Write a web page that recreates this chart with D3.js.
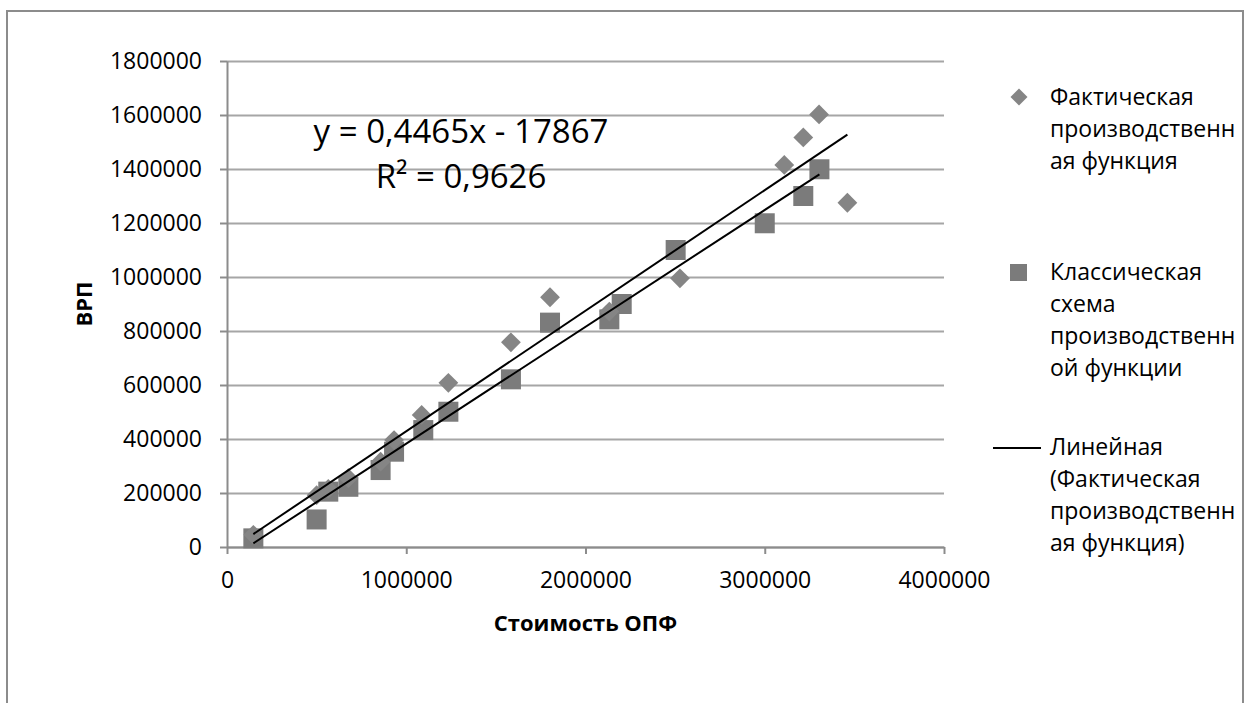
<!DOCTYPE html>
<html>
<head>
<meta charset="utf-8">
<script src="https://cdn.jsdelivr.net/npm/d3@7"></script>
<style>
  body { margin: 0; background: #fff; }
  text { font-family: "Open Sans", "Noto Sans", sans-serif; fill: #000; }
  .axis path, .axis line { stroke: #8c8c8c; stroke-width: 2; }
  .grid line { stroke: #a6a6a6; stroke-width: 2; }
  .grid path { display: none; }
</style>
</head>
<body>
<div id="chart"></div>
<script>
// Фактическая производственная функция (diamonds)
const factX = [147000, 500000, 565000, 677000, 857000, 932000, 1086000, 1235000, 1584000,
  1802000, 2133000, 2527000, 3109000, 3215000, 3303000, 3461000];
const factY = [45000, 192000, 215000, 255000, 316000, 396000, 489000, 608000, 758000,
  925000, 872000, 995000, 1415000, 1517000, 1602000, 1275000];

// Классическая схема производственной функции (squares)
const classX = [147000, 500000, 565000, 677000, 857000, 932000, 1095000, 1235000, 1584000,
  1802000, 2133000, 2202000, 2503000, 3000000, 3215000, 3305000];
const classY = [32000, 102000, 205000, 223000, 285000, 353000, 433000, 501000, 621000,
  831000, 843000, 900000, 1100000, 1199000, 1300000, 1399000];

// linear trends: [slope, intercept, xStart, xEnd]
const trendFact = [0.4465, -17867, 147000, 3461000];
const trendClass = [0.4328, -50100, 147000, 3305000];

const xTicks = [0, 1000000, 2000000, 3000000, 4000000];
const yTicks = [0, 200000, 400000, 600000, 800000, 1000000, 1200000, 1400000, 1600000, 1800000];

const legendLabels = [
  ["Фактическая", "производственн", "ая функция"],
  ["Классическая", "схема", "производственн", "ой функции"],
  ["Линейная", "(Фактическая", "производственн", "ая функция)"]
];

const W = 1247, H = 703;
const margin = {top: 61, left: 227};
const width = 944 - 227, height = 547 - 61;

const svg = d3.select("#chart").append("svg")
  .attr("width", W)
  .attr("height", H);

// outer frame
svg.append("rect")
  .attr("x", 7).attr("y", 11)
  .attr("width", 1236).attr("height", 720)
  .attr("fill", "none")
  .attr("stroke", "#8c8c8c")
  .attr("stroke-width", 2);

const g = svg.append("g")
  .attr("transform", "translate(" + margin.left + "," + margin.top + ")");

const x = d3.scaleLinear().domain([0, 4000000]).range([0, width]);
const y = d3.scaleLinear().domain([0, 1800000]).range([height, 0]);

// gridlines
g.append("g")
  .attr("class", "grid")
  .call(d3.axisLeft(y).tickValues(yTicks).tickSize(-width).tickFormat(""));

// y axis
g.append("g")
  .attr("class", "axis")
  .call(d3.axisLeft(y).tickValues(yTicks).tickSizeInner(7).tickSizeOuter(0).tickPadding(18)
    .tickFormat(d3.format("d")))
  .selectAll("text")
  .style("font-size", "23px");

// x axis
g.append("g")
  .attr("class", "axis")
  .attr("transform", "translate(0," + height + ")")
  .call(d3.axisBottom(x).tickValues(xTicks).tickSizeInner(7).tickSizeOuter(0).tickPadding(18)
    .tickFormat(d3.format("d")))
  .selectAll("text")
  .style("font-size", "23px");

// axis titles
g.append("text")
  .attr("x", width / 2)
  .attr("y", 631 - margin.top)
  .style("text-anchor", "middle")
  .style("font-size", "22px")
  .style("font-weight", "bold")
  .text("Стоимость ОПФ");

g.append("text")
  .attr("transform", "rotate(-90)")
  .attr("x", -height / 2)
  .attr("y", 92 - margin.left)
  .style("text-anchor", "middle")
  .style("font-size", "22px")
  .style("font-weight", "bold")
  .text("ВРП");

// squares
const sq = 20;
g.selectAll(".sq")
  .data(classX.map((d, i) => [d, classY[i]]))
  .enter().append("rect")
  .attr("class", "sq")
  .attr("x", d => x(d[0]) - sq / 2)
  .attr("y", d => y(d[1]) - sq / 2)
  .attr("width", sq)
  .attr("height", sq)
  .style("fill", "#7b7b7b");

// diamonds
const diamond = d3.symbol().type(d3.symbolSquare).size(14 * 14);
g.selectAll(".dm")
  .data(factX.map((d, i) => [d, factY[i]]))
  .enter().append("path")
  .attr("class", "dm")
  .attr("d", diamond)
  .attr("transform", d => "translate(" + x(d[0]) + "," + y(d[1]) + ") rotate(45)")
  .style("fill", "#858585");

// trend lines
const line = d3.line().x(d => x(d[0])).y(d => y(d[1]));
[trendFact, trendClass].forEach(t => {
  g.append("path")
    .datum([[t[2], t[0] * t[2] + t[1]], [t[3], t[0] * t[3] + t[1]]])
    .attr("d", line)
    .attr("fill", "none")
    .attr("stroke", "#000")
    .attr("stroke-width", 2);
});

// equation
svg.append("text")
  .attr("x", 461).attr("y", 143)
  .style("text-anchor", "middle")
  .style("font-size", "33px")
  .text("y = 0,4465x - 17867");
svg.append("text")
  .attr("x", 461).attr("y", 188)
  .style("text-anchor", "middle")
  .style("font-size", "33px")
  .text("R² = 0,9626");

// legend
const lg = svg.append("g");
const groupTop = [105, 280, 455];
const lineH = 32;
legendLabels.forEach((lines, i) => {
  lg.append("text")
    .attr("x", 1050)
    .attr("y", groupTop[i])
    .style("font-size", "23px")
    .selectAll("tspan")
    .data(lines)
    .enter().append("tspan")
    .attr("x", 1050)
    .attr("dy", (d, j) => j ? lineH : 0)
    .text(d => d);
});
lg.append("path")
  .attr("d", d3.symbol().type(d3.symbolSquare).size(12 * 12))
  .attr("transform", "translate(1019,97) rotate(45)")
  .style("fill", "#858585");
lg.append("rect")
  .attr("x", 1010).attr("y", 264)
  .attr("width", 17).attr("height", 17)
  .style("fill", "#7b7b7b");
lg.append("line")
  .attr("x1", 993).attr("x2", 1041)
  .attr("y1", 448).attr("y2", 448)
  .attr("stroke", "#000")
  .attr("stroke-width", 2);
</script>
</body>
</html>
